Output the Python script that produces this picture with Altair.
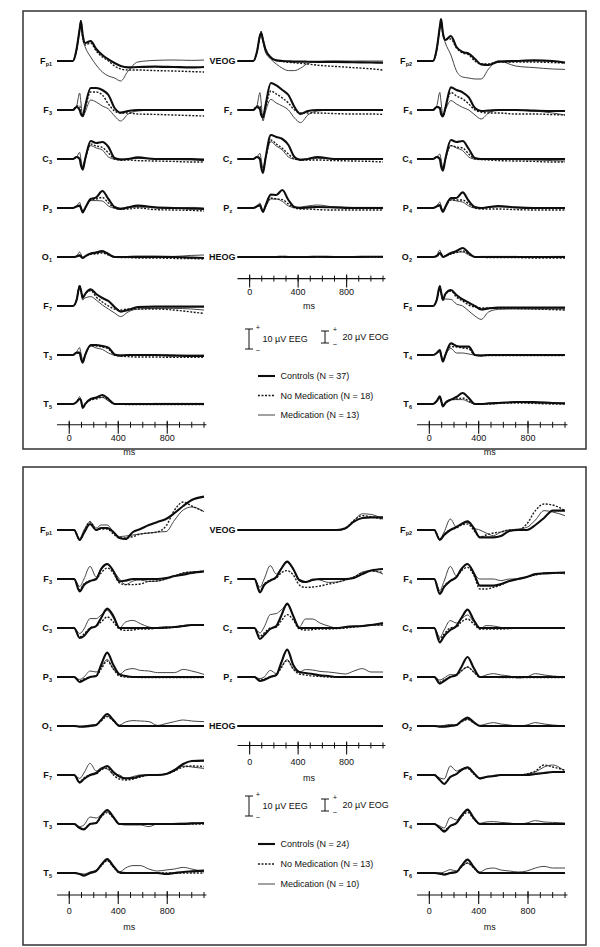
import altair as alt
import pandas as pd

# ---------------- data ----------------
TIME_TOP = [-100, 30, 60, 85, 95, 110, 130, 175, 220, 270, 320, 370, 420, 480, 560, 700, 850, 1000, 1100]
TIME_BOTTOM = [-100, 40, 85, 120, 170, 220, 260, 310, 360, 410, 460, 520, 580, 650, 720, 790, 860, 930, 1000, 1100]

GROUPS = ["Controls", "No Medication", "Medication"]
N_TOP = [37, 18, 13]
N_BOTTOM = [24, 13, 10]

LEFT_CH = ["Fp1", "F3", "C3", "P3", "O1", "F7", "T3", "T5"]
MID_CH = ["VEOG", "Fz", "Cz", "Pz", "HEOG"]
RIGHT_CH = ["Fp2", "F4", "C4", "P4", "O2", "F8", "T4", "T6"]
EOG_CH = ["VEOG", "HEOG"]

MS_MAJOR = [0, 400, 800]
MS_MINOR = [0, 100, 200, 300, 400, 500, 600, 700, 800, 900, 1000, 1100]
EEG_BAR_UV = 10
EOG_BAR_UV = 20

TOP_CONTROLS = {
    "Fp1": [0, 0, 6, 16, 20, 13, 9, 10, 6, 3, 0.8, -1, -2.5, -3.2, -3, -2.8, -3, -3.2, -3],
    "F3": [0, 0, 1.5, 0, -2, -3, 2, 11, 11, 10, 7.5, 1, -1.3, -0.5, 0, 0, 0, 0, 0],
    "C3": [0, 0, 1, 0, -3, -5.3, 0, 9, 8, 8.5, 6, 0.5, -0.3, 0, 0.8, 0, 0, 0, -0.3],
    "P3": [0, 0, 0.8, 1.2, 0, -2.2, 0, 4.5, 5.3, 8.5, 4.5, 0.5, -0.5, 0.3, 1.2, 0.3, 0, -0.3, -0.5],
    "O1": [0, 0, 0.3, 0.8, 0.3, -0.5, 0.3, 1.7, 2.2, 2.8, 1.5, 0, 0, 0, 0, 0, 0, -0.3, -0.5],
    "F7": [0, 0, 3, 10, 8, 4, 6, 8.3, 6, 4, 2.5, -0.5, -2.8, -2, -0.5, -0.3, -0.3, -0.3, -0.3],
    "T3": [0, 0, 1.2, 1.2, -1.5, -3.8, 0, 5, 5, 4.5, 3.7, 0.3, -0.3, 0, 0, 0, -0.3, -0.5, -0.5],
    "T5": [0, 0, 1, 2.5, 2, -2, 0, 2.5, 3.2, 4.5, 2.5, 0, 0, 0, 0, 0, 0, 0, 0],
    "VEOG": [0, 0, 15, 42, 47, 35, 20, 6, 1, 0, -0.5, -1, -1, -1.2, -1.5, -1.5, -2, -2.5, -2.8],
    "Fz": [0, 0, 1.5, 0.5, -2.5, -3.8, 2, 13.5, 12.3, 10, 7.5, 1.5, -2, -0.5, 0, 0, 0, 0, 0],
    "Cz": [0, 0, 1, 0, -4, -7, 0, 12, 11, 10, 7, 1, -0.5, 0, 1, 0, 0, 0, 0],
    "Pz": [0, 0, 0.8, 1.5, 0, -2, 1, 6.7, 6.5, 9, 4, 0.5, 0, 0.3, 0.5, 0.3, 0, 0, 0],
    "HEOG": [0, 0, 0, 0, 0, 0, 0, 0, 0, 0.5, 0, 0, 0, 0, 0.5, 0, 0, 0.5, 0.5],
    "Fp2": [0, 0, 6, 17, 21, 14, 10.5, 12.5, 7, 4.5, 3.7, 1, -1.7, -2, -0.3, 0, 0.3, 0, -0.8],
    "F4": [0, 0, 1.5, 1, -2, -3.2, 1, 11.3, 10, 8.8, 6.3, 1, -0.5, -0.3, 0, 0, -0.3, -0.5, -0.5],
    "C4": [0, 0, 1, 0, -3.5, -5.8, 0, 9.5, 8.5, 9, 5, 0.5, 0, 0, 0, 0, 0, 0, 0],
    "P4": [0, 0, 0.8, 1.5, 0, -2, 0.5, 5, 5, 7.8, 3.5, 0.5, 0, 0.5, 1, 0.3, 0, 0, 0],
    "O2": [0, 0, 0.5, 2, 1.5, 0, 0.5, 2, 3, 4.5, 2, 0, 0, 0, 0, 0, 0, 0, 0],
    "F8": [0, 0, 3, 10, 7, 3.3, 6, 8, 5.5, 3.3, 1.7, 0, -1.7, -1.2, -0.8, -0.8, -0.8, -0.8, -0.8],
    "T4": [0, 0, 1, 2.5, 0, -3.3, 0, 5.8, 4.5, 4.2, 4.2, 0, -0.3, 0, 0, 0, 0, 0, 0],
    "T6": [0, 0, 1.5, 3.8, 2, -1.2, 0.5, 2.2, 3.5, 5.5, 3, 0, 0, 0.3, 0.5, 1, 1, 0.5, 0.3],
}

TOP_NOMED = {
    "Fp1": [0, 0, 6, 16, 20, 12, 8, 9, 5, 2, 0, -2.5, -4, -4.5, -4.5, -4.8, -5, -5.3, -5.5],
    "F3": [0, 0, 2, 2, -1, -3, 1, 9, 9, 7.5, 3, -0.5, -1.5, -1.5, -2, -2.2, -2.5, -2.8, -3],
    "C3": [0, 0, 1, 0.5, -3, -4.5, 0, 7.5, 6.5, 5.8, 3, 0, -0.5, -0.5, -0.8, -1, -1.2, -1.5, -1.5],
    "P3": [0, 0, 0.8, 1, 0, -1.8, 0, 4, 4.5, 5.3, 2.5, 0, -0.5, -0.5, 0, -0.8, -1, -1.2, -1.5],
    "O1": [0, 0, 0.3, 0.8, 0.3, -0.5, 0.3, 1.3, 1.6, 2, 1, 0, -0.3, -0.3, -0.5, -0.5, -0.7, -0.8, -1],
    "F7": [0, 0, 3, 10, 8, 4, 6, 7.7, 4.5, 2, 0, -1.5, -2, -1.5, -1.5, -1.5, -2, -3, -3.7],
    "T3": [0, 0, 1, 1, -1.5, -3.5, 0, 4.5, 4.5, 4, 3, 0, -0.5, -0.8, -1, -1, -1.2, -1.2, -1.2],
    "T5": [0, 0, 1, 2.5, 1.5, -1.5, 0, 2, 2.5, 3.5, 2, 0, 0, -0.3, -0.3, -0.3, -0.3, -0.3, -0.3],
    "VEOG": [0, 0, 15, 43, 49, 36, 20, 6, 1, -1, -2, -3, -4, -5, -7, -9, -11, -13, -15],
    "Fz": [0, 0, 2, 2, -1, -3, 1, 9.5, 8, 6, 3.5, 0, -1.5, -1.5, -1.5, -1.8, -2, -2, -2.2],
    "Cz": [0, 0, 1, 0.5, -3, -5.5, 0, 9.5, 7.5, 5.3, 2.5, 0, -0.5, -0.5, -0.5, -0.8, -1, -1.2, -1.5],
    "Pz": [0, 0, 0.8, 1.2, 0, -1.8, 0.5, 5, 4.5, 4.2, 2, 0, -0.5, -0.5, -0.8, -1, -1, -1, -1],
    "HEOG": [0, 0, 0, 0, 0, 0, 0, 0, 0, 0, 0, 0, 0, 0, 0, 0, 0, 0, 0],
    "Fp2": [0, 0, 6, 17, 21, 14, 11, 11, 6.5, 4, 3, 0, -1.5, -1.5, -0.5, -0.5, -0.5, -0.8, -1],
    "F4": [0, 0, 1.5, 1.5, -1, -3, 1, 8.8, 7, 5.5, 3, 0, -1, -1.5, -1.5, -2, -2, -2.3, -2.5],
    "C4": [0, 0, 1, 0.5, -2.5, -5, 0, 6.7, 6, 5.5, 2.5, 0, -0.3, -0.5, -0.8, -1, -1.2, -1.5, -1.5],
    "P4": [0, 0, 0.8, 1.2, 0, -1.5, 0.5, 4, 4, 4, 2, 0, -0.5, -0.5, -0.5, -0.8, -1, -1, -1],
    "O2": [0, 0, 0.5, 1.5, 1, 0, 0.5, 1.5, 2.2, 3, 1.5, 0, 0, -0.3, -0.3, -0.3, -0.5, -0.5, -0.5],
    "F8": [0, 0, 3, 9, 7, 3, 6, 7.5, 4.5, 2.5, 0.5, -0.5, -1, -1, -1, -1.2, -1.5, -1.8, -2],
    "T4": [0, 0, 1, 2, 0, -3, 0, 4.2, 4, 3.5, 3, 0, -0.3, -0.3, -0.3, -0.3, -0.3, -0.3, -0.3],
    "T6": [0, 0, 1.5, 3, 1.5, -1, 0.5, 2, 2.5, 3, 1.5, 0, 0, 0, 0.3, 0.5, 0.3, 0, 0],
}

TOP_MED = {
    "Fp1": [0, 0, 5, 15, 18, 11, 7, 2, -2, -5.5, -7.5, -8.5, -10, -5, -0.5, 0.3, 0.5, 0.3, 0.5],
    "F3": [0, 0, 2, 8.5, 4, -3.5, -1, 5, 4, 2, 0.5, -3, -5.5, -2, -0.5, 0, 0, 0, 0],
    "C3": [0, 0, 1, 3.3, 0, -3.7, 0, 6.7, 5.5, 4.5, 1, 0, 0, 0, 0.3, 0, -0.3, -0.5, -0.8],
    "P3": [0, 0, 1, 2.8, 1, -1.8, 0, 3.7, 3.7, 3.5, 1, 0, 0, 0.3, 0.5, 0.3, 0, 0.3, 0],
    "O1": [0, 0, 0.5, 2.5, 1.5, -0.3, 0.5, 1.5, 2.5, 3.3, 1.5, 0.3, 0, 0.3, 0.5, 0.5, 0.3, 0.8, 1],
    "F7": [0, 0, 3, 10.5, 8, 3, 4, 4.7, 3, 0.5, -1.5, -3.5, -5.3, -3, -1.5, -1.2, -1.2, -1.5, -2],
    "T3": [0, 0, 1.5, 3.7, 1, -2.2, 0, 4.5, 3.5, 2.8, 1, 0, 0, 0, 0, 0, 0, 0, 0],
    "T5": [0, 0, 1, 3.7, 2, -1.5, 0, 2.5, 3, 3.3, 1.5, 0, 0, 0, 0, 0.3, 0.3, 0.3, 0.3],
    "VEOG": [0, 0, 14, 40, 45, 32, 15, 3, -5, -12, -16, -16, -12, -4, -1, 0, 0, 0, 0],
    "Fz": [0, 0, 2, 8.7, 4, -5.5, -1, 5.3, 3.5, 2, 0, -4, -6.3, -2.5, -0.5, 0, 0, 0, 0],
    "Cz": [0, 0, 1, 2.8, 0, -4.7, 0, 8.7, 6.5, 4.5, 1, 0, 0, 0, 0.3, 0, 0, 0, 0],
    "Pz": [0, 0, 1, 2.5, 1, -1.5, 0.5, 4.5, 4.5, 3.3, 1, 0.3, 0.5, 1, 1.5, 0.5, 0.3, 0.3, 0.3],
    "HEOG": [0, 0, 0, 0, 0, 0, 0, 0, 0, 0, 0, 0, 0.5, 0, 0, 0, 0.5, 0, 0],
    "Fp2": [0, 0, 5, 16, 19, 13, 9, 3, -5, -8, -8.5, -9, -9, -4, 0, -2.5, -3.3, -4, -4.2],
    "F4": [0, 0, 2, 8.8, 4, -2.8, 0, 4.7, 3, 1.3, 0, -2.5, -4.5, -1.5, 0, 0, -0.5, -1.5, -2.5],
    "C4": [0, 0, 1, 2.5, 0, -4.5, 0, 6.7, 5.5, 4.2, 1, 0, 0, 0, 0, -0.3, -0.5, -0.8, -1],
    "P4": [0, 0, 1, 3, 1, -1.5, 0.5, 4.2, 3.5, 3, 1, 0, 0, 0.3, 0.5, 0.3, 0, 0, 0],
    "O2": [0, 0, 0.8, 3.5, 2, 0, 0.5, 1.5, 2.5, 2.5, 1, 0, 0.3, 0.3, 0.3, 0.3, 0, 0.3, 0.3],
    "F8": [0, 0, 3, 9, 6.5, 2.5, 3.5, 3.3, 1, 0, -2.5, -5, -6.7, -3, -1.7, -1.5, -1.5, -1.5, -1.5],
    "T4": [0, 0, 1, 2.5, 0.5, -2.5, 0, 3.3, 1, 1, 0.5, 0, 0, 0, 0, 0, 0, 0, 0],
    "T6": [0, 0, 1.5, 3.8, 2, -1, 0.5, 2.2, 2.2, 2.2, 1, 0, 0, 0.3, 0.5, 0.8, 0.5, 0.3, 0.3],
}

BOT_CONTROLS = {
    "Fp1": [0, 0, -5, -1.5, 3, 0, 1, 1, -1, -4, -4.5, -1, 0.5, 2.5, 4, 5.5, 8.5, 12, 15, 16.7],
    "F3": [0, 0, -6.2, -3, -1, 0, 5, 7.5, 4, -1.2, -0.8, 0, 0, 0, 0, 0.5, 1.5, 2.2, 3, 3.8],
    "C3": [0, 0, -5, -4, -0.3, 1, 5, 9.7, 6, 0, 0, 0, 0, 0, 0, 0.3, 0.5, 1, 1.5, 1.5],
    "P3": [0, 0, -2.5, -1.5, 0, 0.5, 6, 12.2, 6, 1.3, 0.5, 0, 0, 0, 0, 0, 0, 0, 0, 0],
    "O1": [0, 0, -0.3, -0.3, 0, 0.5, 3, 6, 3, 0, 0, 0, 0, 0, 0, 0, 0, 0, 0, 0],
    "F7": [0, 0, -3.8, -2, 0, 1, 3, 4.5, 1.5, -0.8, -1.7, -1.5, -0.5, 0, 0, 0.5, 2.5, 5.5, 7, 7.2],
    "T3": [0, 0, -2, -2.7, 0, 0.5, 4, 7, 3.5, 0, 0, 0, 0, 0, 0, 0, 0, 0, 0.3, 0.5],
    "T5": [0, 0, -0.5, -1.3, 0, 1, 4, 7, 3.5, 0.3, 0, 0, 0, 0, 0, -0.5, 0, 0.5, 0.8, 1.2],
    "VEOG": [0, 0, 0, 0, 0, 0, 0, 0, 0, 0, 0, 0, 0, 0, 0, 3, 14, 20, 21, 21],
    "Fz": [0, 0, -6.7, -3, -0.8, 1, 5, 8.7, 5, -0.5, -1.5, -0.5, 0, 0, 0, 0, 0.5, 2.5, 4.2, 5],
    "Cz": [0, 0, -5.5, -3.5, -0.5, 1, 6, 12.2, 6, 0, 0, 0, 0, 0, 0, 0.5, 0.8, 1, 1.5, 2.5],
    "Pz": [0, 0, -2, -1.5, 0, 1, 7, 13.7, 6, 2.5, 2, 1.5, 0.8, 0.5, 0, 0, 0, 0, 0, 0],
    "HEOG": [0, 0, 0, 0, 0, 0, 0, 0, 0, 0, 0, 0, 0, 0, 0, 0, 0, 0, 0, 0],
    "Fp2": [0, 0, -5, -2.5, 0, 1.5, 3, 4.3, 1, -3.7, -3.7, -3.7, -3, -0.5, 0, 0, 2.5, 6, 9.7, 9.7],
    "F4": [0, 0, -7.5, -4, -1, 1, 5, 7.5, 3, -3.3, -3.3, -3.3, -2.5, -1, 0, 1, 2.5, 2.8, 3, 3.3],
    "C4": [0, 0, -7.2, -4, -1, 1, 5, 9.2, 4, 0, 0, 0, 0, 0, 0, 0, 0, 0, 0, 0],
    "P4": [0, 0, -3.3, -2, 0, 1, 5, 10, 4.5, 0, 0, 0, 0, 0, 0, 0, 0, 0, 0, 0],
    "O2": [0, 0, -0.3, -0.3, 0, 0.5, 2.5, 4.2, 2, 0, 0, 0, 0, 0, 0, 0, 0, 0, 0, 0],
    "F8": [0, 0, -2.5, -4.5, -1, 0.5, 2.5, 3.8, 1, -1.7, -1, -0.5, 0, 0, 0, 0, 0.5, 1, 1.5, 1.5],
    "T4": [0, 0, -2, -3.8, -1, 0.5, 4, 7.2, 3, 0, 0, 0, 0, 0, 0, 0, 0, 0, 0, 0],
    "T6": [0, 0, -0.3, -0.8, 0, 0.5, 3.5, 6.7, 3, 0, 0, 0, 0, 0, 0, 0, 0, 0, 0, 0],
}

BOT_NOMED = {
    "Fp1": [0, 0, -5, -1, 4, 0, 0.5, 0.5, -2, -4, -4, -3.3, -2, -1.5, -1, 2, 10, 14, 12, 9.2],
    "F3": [0, 0, -5.3, -2.5, -1, 0, 3, 5.5, 3, -2, -2.8, -2.8, -2.5, -1.2, -1, 0, 1.5, 3, 3.5, 3.8],
    "C3": [0, 0, -4.5, -3, 0, 1, 3, 5.5, 3, -0.5, -1.2, -1, -0.5, -0.5, 0, 0, 0.5, 1, 1.5, 1.5],
    "P3": [0, 0, -2, -1, 0, 0.5, 4, 8, 4, 0.5, 0, 0, -0.3, -0.3, -0.3, -0.3, -0.3, -0.3, -0.3, -0.3],
    "O1": [0, 0, -0.3, -0.3, 0, 0.5, 2.5, 4.7, 2.5, 0, 0, 0, 0, 0, 0, 0, 0, 0, 0, 0],
    "F7": [0, 0, -3.5, -1.5, 0, 0.5, 2.5, 3.5, 0, -2, -2.5, -2, -1, 0, 0, 0.5, 2, 4, 4.5, 4.2],
    "T3": [0, 0, -2, -2.3, 0, 0.5, 3.5, 5.7, 3, 0, 0, 0, 0, 0, 0, 0, 0, 0, 0, 0],
    "T5": [0, 0, -0.5, -1, 0, 1, 3.5, 6.2, 3, 0, 0, 0, 0, 0, 0, 0, 0, 0, 0, 0],
    "VEOG": [0, 0, 0, 0, 0, 0, 0, 0, 0, 0, 0, 0, 0, 0, 0, 3, 16, 24, 22, 18],
    "Fz": [0, 0, -5.8, -2.5, -0.5, 0.5, 3, 4.2, 2, -3, -4.2, -4, -3.5, -2.5, -1.7, -0.5, 1, 3, 4, 3.3],
    "Cz": [0, 0, -4.2, -2.5, 0, 0.5, 3.5, 6.7, 4, -0.5, -1, -0.8, -0.5, -0.5, -0.3, 0, 0.5, 1, 1.5, 1.5],
    "Pz": [0, 0, -1.5, -1, 0, 1, 4.5, 8.3, 4, 1.5, 1, 0.5, 0.3, 0, 0, 0, 0, 0, 0, 0],
    "HEOG": [0, 0, 0, 0, 0, 0, 0, 0, 0, 0, 0, 0, 0, 0, 0, 0, 0, 0, 0, 0],
    "Fp2": [0, 0, -4.5, -2, 0, 1, 2.5, 3, 0, -3.5, -2.5, -1.5, -1, 0, 0, 3, 9.7, 13, 12.5, 9.7],
    "F4": [0, 0, -6.7, -3.5, -1, 1, 4, 5.8, 2, -5, -5, -4.2, -3, -1, 0, 1, 2, 2.8, 3, 3],
    "C4": [0, 0, -5.5, -3, 0, 0.5, 3, 4.5, 2, -0.5, -0.5, -0.5, -0.5, -0.3, 0, 0, 0, 0, 0, 0],
    "P4": [0, 0, -2.5, -1.5, 0, 1, 3, 5, 2.5, 0, 0, 0, -0.3, -0.3, -0.3, -0.3, -0.3, -0.3, -0.3, -0.3],
    "O2": [0, 0, -0.3, -0.3, 0, 0.5, 2, 3.3, 1.5, 0, 0, 0, 0, 0, 0, 0, 0, 0, 0, 0],
    "F8": [0, 0, -2.5, -4.2, -1, 0.5, 2.5, 3.3, 0.5, -1.7, -1, -0.5, 0, 0, 0, 0.5, 2, 5, 4, 2.5],
    "T4": [0, 0, -1.8, -3.2, -1, 0.5, 3.5, 5.8, 2.5, 0, 0, 0, 0, 0, 0, 0, 0, 0, 0, 0],
    "T6": [0, 0, -0.3, -0.5, 0, 0.5, 3, 5, 2.5, 0, 0, 0, 0, 0, 0, 0, 0, 0, 0, 0],
}

BOT_MED = {
    "Fp1": [0, 0, -4.2, 0, 4.2, 1, 2.5, 2.5, -1, -3.3, -3, -2.5, -2, -1.5, -1, -0.8, 5, 10, 11.5, 9.2],
    "F3": [0, 0, -3.7, 0, 6.3, 1, 4.5, 7.2, 4, 0, -2.8, -1, -0.5, -1.2, -1, 0, 1.5, 3, 3.5, 3.8],
    "C3": [0, 0, -2.8, -0.5, 4.7, 4.7, 6.5, 8.8, 5, 0, 3, 3.8, 2.2, 0.5, 0, 0, 0.5, 1, 1.5, 1.5],
    "P3": [0, 0, -1.2, 0, 3, 2.5, 5, 8.8, 4, 1.3, 3.5, 4.2, 3.3, 3, 2.2, 2.2, 2.2, 3.8, 3, 1.3],
    "O1": [0, 0, -0.3, 0, 0.5, 0.8, 3, 5, 2.5, 0.5, 2, 2.7, 2.5, 2.2, 0.3, 1.2, 2.2, 3, 2.5, 2.2],
    "F7": [0, 0, -1.7, 1, 5.8, 2, 3.5, 3, 0.5, 0, -1.7, -0.8, 0, 0, 0, 0.5, 2, 4.5, 4, 3.3],
    "T3": [0, 0, -1.3, -0.5, 3.5, 3, 4.5, 6.2, 3, 0, -0.5, -0.5, -0.5, -1.3, 0, 0, 0.3, 0.5, 0.5, 0.3],
    "T5": [0, 0, -0.3, -0.5, 0.5, 1.5, 4, 6.2, 3, 0.5, 2.5, 3.7, 3.7, 2, 1, 1.5, 2, 2.8, 2, 0.5],
    "VEOG": [0, 0, 0, 0, 0, 0, 0, 0, 0, 0, 0, 0, 0, 0, 0, 2, 16, 27, 26, 18],
    "Fz": [0, 0, -4.2, 0, 6.7, 2.5, 5.5, 8.3, 4.5, -1, -1.7, 0, -0.5, -1.7, -1.5, -0.5, 1, 3.5, 4.2, 2.5],
    "Cz": [0, 0, -2.5, 0.5, 6.7, 7.2, 9, 11.7, 6, 0.5, 4.5, 4.5, 2.5, 1, 0, 0.5, 0.8, 1, 1.5, 1.5],
    "Pz": [0, 0, -0.8, 0, 3.3, 1.7, 5, 8.7, 4, 2.5, 3.7, 3.5, 2.8, 2.5, 2, 1.5, 3, 4.2, 2.5, 2.5],
    "HEOG": [0, 0, 0, 0, 0, 0, 0, 0, 0, 0, 0, 0, 0, 0, 0, 0, 0, 0, 0, 0],
    "Fp2": [0, 0, -4.5, -1, 5.5, 1.5, 3, 3.8, 1, 0, -1.5, -2.8, -1, 0, 0.5, 1.3, 5, 9.7, 9, 7.2],
    "F4": [0, 0, -5.8, -1, 6.3, 1.5, 5, 7.5, 3, 0, 0, 0, -0.8, 0, 0, 1, 2, 3, 3.3, 2.5],
    "C4": [0, 0, -4.7, -1, 3.7, 2.5, 4.5, 6.5, 3, -0.5, 1.2, 1, 0.3, -0.3, 0, 0, 0, 0, 0, 0],
    "P4": [0, 0, -1.5, -0.5, 1.2, 1, 3, 5, 2.5, 0, 1, 1.7, 1, 0.5, -0.5, 0, 1.7, 1, 0.5, 0],
    "O2": [0, 0, 0, 0.3, 0.8, 0.5, 2, 3.3, 1.5, 0.3, 1, 1.7, 1, 0.5, 0, 0.5, 1.7, 1, 0.5, 0],
    "F8": [0, 0, -1.5, -2, 4.5, 2, 3, 3.8, 1, -2, -1, -0.8, 0, 0, 0, 0.5, 1.5, 4, 5, 1.7],
    "T4": [0, 0, -1, -2, 3.3, 2, 4.5, 6.7, 3, 0.3, 1, 1.2, 0.8, 0.5, 0, 0.5, 1.7, 1, 0.8, 0.5],
    "T6": [0, 0, 0, 0.5, 1.7, 1, 3, 5, 2.5, 0.5, 2, 2.5, 1.5, 1, 0.5, 1, 2.5, 3.3, 2.5, 2.5],
}

# ---------------- styling / layout ----------------
FONT = "Liberation Sans"
INK = "#111111"
STYLE = {
    "Controls": dict(color="#0d0d0d", strokeWidth=2.1),
    "No Medication": dict(color="#1a1a1a", strokeWidth=1.4, strokeDash=[2, 1.5]),
    "Medication": dict(color="#444444", strokeWidth=1.0),
}
DRAW_ORDER = ["Medication", "No Medication", "Controls"]
PX_EEG = 2.0
PX_EOG = 0.6
BASE = 28
W_LEFT, W_MID, W_RIGHT = 147, 145.5, 148
GAP = 76.2

PANELS = [
    dict(time=TIME_TOP, data={"Controls": TOP_CONTROLS, "No Medication": TOP_NOMED, "Medication": TOP_MED},
         n=N_TOP, row_h=48.6, side_axis=20.8, mid_axis=21.6, lab_dy=13, ms_dy=27,
         box=(-22, 416), eeg_top=51, eog_top=53, leg=(98, 137)),
    dict(time=TIME_BOTTOM, data={"Controls": BOT_CONTROLS, "No Medication": BOT_NOMED, "Medication": BOT_MED},
         n=N_BOTTOM, row_h=48.7, side_axis=22, mid_axis=19.5, lab_dy=16, ms_dy=32,
         box=(-35, 443), eeg_top=49, eog_top=52, leg=(97, 137)),
]

ONE = pd.DataFrame({"k": [0]})


def label_layers(ch, ys):
    base = alt.Chart(ONE)
    y = alt.Y(datum=0, scale=ys, axis=None)
    if ch in EOG_CH:
        return [base.mark_text(text=ch, align="right", baseline="middle", fontSize=9, fontWeight="bold",
                               font=FONT, color=INK).encode(x=alt.value(-2), y=y)]
    main, sub = ch[0], ch[1:]
    sw = 3.3 * len(sub)
    return [
        base.mark_text(text=main, align="right", baseline="middle", fontSize=9, fontWeight="bold",
                       font=FONT, color=INK).encode(x=alt.value(-5 - sw), y=y),
        base.mark_text(text=sub, align="left", baseline="middle", fontSize=5.5, fontWeight="bold", dy=3,
                       font=FONT, color=INK).encode(x=alt.value(-5 - sw + 0.3), y=y),
    ]


def axis_layers(py, xs, lab_dy, ms_dy):
    line = alt.Chart(ONE).mark_rule(color=INK, strokeWidth=1.1).encode(
        x=alt.X(datum=-100, scale=xs, axis=None), x2=alt.X2(datum=1120), y=alt.value(py))
    minor = alt.Chart(pd.DataFrame({"ms": MS_MINOR})).mark_rule(color=INK, strokeWidth=1).encode(
        x=alt.X("ms:Q", scale=xs, axis=None), y=alt.value(py - 3), y2=alt.value(py + 3))
    major = alt.Chart(pd.DataFrame({"ms": MS_MAJOR})).mark_rule(color=INK, strokeWidth=1.1).encode(
        x=alt.X("ms:Q", scale=xs, axis=None), y=alt.value(py - 4), y2=alt.value(py + 9))
    labels = alt.Chart(pd.DataFrame({"ms": MS_MAJOR})).mark_text(
        fontSize=9, font=FONT, color=INK, baseline="middle").encode(
        x=alt.X("ms:Q", scale=xs, axis=None), y=alt.value(py + lab_dy), text=alt.Text("ms:Q"))
    title = alt.Chart(ONE).mark_text(text="ms", fontSize=9, font=FONT, color=INK, baseline="middle").encode(
        x=alt.X(datum=490, scale=xs, axis=None), y=alt.value(py + ms_dy))
    return [line, minor, major, labels, title]


def wave(panel, ch, width, axis_off=None, box=None):
    h = panel["row_h"]
    px = PX_EOG if ch in EOG_CH else PX_EEG
    ys = alt.Scale(domain=[-(h - BASE) / px, BASE / px], nice=False, zero=False)
    xs = alt.Scale(domain=[-100, 1100], nice=False, zero=False)
    layers = []
    if box is not None:
        layers.append(alt.Chart(ONE).mark_rect(fillOpacity=0, stroke="#333333", strokeWidth=1.5).encode(
            x=alt.value(-34), x2=alt.value(529), y=alt.value(box[0]), y2=alt.value(box[1])))
    for g in DRAW_ORDER:
        df = pd.DataFrame({"time": panel["time"], "value": panel["data"][g][ch]})
        layers.append(alt.Chart(df).mark_line(interpolate="monotone", **STYLE[g]).encode(
            x=alt.X("time:Q", scale=xs, axis=None),
            y=alt.Y("value:Q", scale=ys, axis=None)))
    layers += label_layers(ch, ys)
    if axis_off is not None:
        layers += axis_layers(BASE + axis_off, xs, panel["lab_dy"], panel["ms_dy"])
    return alt.layer(*layers).properties(width=width, height=h)


def annotation(panel, width):
    h = panel["row_h"]
    layers = []
    bars = [
        (11.5, EEG_BAR_UV, PX_EEG, panel["eeg_top"], "10 µV EEG", 25, 9),
        (87.5, EOG_BAR_UV, PX_EOG, panel["eog_top"], "20 µV EOG", 105, 10),
    ]
    for bx, uv, px, top, text, tx, pdx in bars:
        hi = uv + top / px
        sc = alt.Scale(domain=[hi - h / px, hi], nice=False, zero=False)
        layers.append(alt.Chart(pd.DataFrame({"uv": [0, uv]})).mark_rule(color=INK, strokeWidth=1).encode(
            x=alt.value(bx - 4), x2=alt.value(bx + 4), y=alt.Y("uv:Q", scale=sc, axis=None)))
        layers.append(alt.Chart(ONE).mark_rule(color=INK, strokeWidth=1).encode(
            x=alt.value(bx), y=alt.Y(datum=0, scale=sc, axis=None), y2=alt.Y2(datum=uv)))
        layers.append(alt.Chart(ONE).mark_text(text="+", fontSize=7.5, font=FONT, color=INK, dy=-1).encode(
            x=alt.value(bx + pdx), y=alt.Y(datum=uv, scale=sc, axis=None)))
        layers.append(alt.Chart(ONE).mark_text(text="\u2212", fontSize=7.5, font=FONT, color=INK, dy=2).encode(
            x=alt.value(bx + pdx), y=alt.Y(datum=0, scale=sc, axis=None)))
        layers.append(alt.Chart(ONE).mark_text(text=text, fontSize=9, font=FONT, color=INK, align="left",
                                               baseline="middle").encode(
            x=alt.value(tx), y=alt.Y(datum=uv / 2, scale=sc, axis=None)))
    labels = [f"{g} (N = {n})" for g, n in zip(GROUPS, panel["n"])]
    ps = alt.Scale(type="point", domain=labels, range=list(panel["leg"]), padding=0)
    for g, lab in zip(GROUPS, labels):
        layers.append(alt.Chart(pd.DataFrame({"label": [lab]})).mark_rule(**STYLE[g]).encode(
            x=alt.value(20.5), x2=alt.value(37.5), y=alt.Y("label:N", scale=ps, axis=None)))
    layers.append(alt.Chart(pd.DataFrame({"label": labels})).mark_text(
        align="left", baseline="middle", fontSize=9, font=FONT, color=INK).encode(
        x=alt.value(43), y=alt.Y("label:N", scale=ps, axis=None), text="label:N"))
    return alt.layer(*layers).resolve_scale(y="independent").properties(width=width, height=h)


def blank(width, height):
    return alt.Chart(ONE).mark_point(opacity=0).encode(
        x=alt.value(0), y=alt.value(0)).properties(width=width, height=height)


cells = []
for pi, panel in enumerate(PANELS):
    for r in range(8):
        last = r == 7
        cells.append(wave(panel, LEFT_CH[r], W_LEFT, panel["side_axis"] if last else None,
                          panel["box"] if r == 0 else None))
        if r < 5:
            cells.append(wave(panel, MID_CH[r], W_MID, panel["mid_axis"] if r == 4 else None))
        elif r == 5:
            cells.append(annotation(panel, W_MID))
        else:
            cells.append(blank(W_MID, panel["row_h"]))
        cells.append(wave(panel, RIGHT_CH[r], W_RIGHT, panel["side_axis"] if last else None))
    if pi == 0:
        cells += [blank(W_LEFT, GAP), blank(W_MID, GAP), blank(W_RIGHT, GAP)]

chart = alt.concat(*cells, columns=3, spacing={"row": 0, "column": 33.5},
                   bounds="flush", align="each").properties(
    padding={"left": 14, "top": 2, "right": 4, "bottom": 0}
).configure_view(stroke=None)

chart.save("out.html", embed_options={"renderer": "svg", "actions": False})
